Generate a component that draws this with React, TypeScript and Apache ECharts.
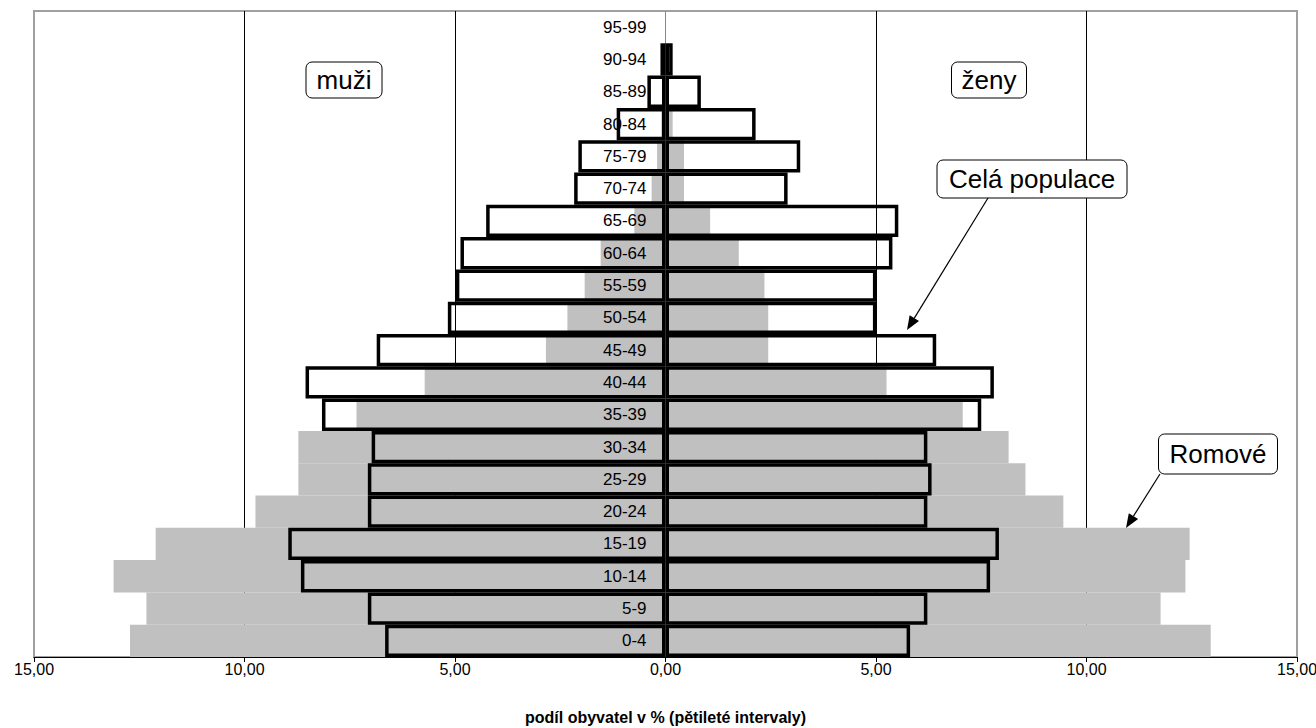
import React, { useEffect, useRef } from 'react';
import * as echarts from 'echarts';

const categories = ['0-4', '5-9', '10-14', '15-19', '20-24', '25-29', '30-34', '35-39', '40-44', '45-49', '50-54', '55-59', '60-64', '65-69', '70-74', '75-79', '80-84', '85-89', '90-94', '95-99'];
// Celá populace (whole population), % per age group
const totalMen = [6.66, 7.07, 8.66, 8.96, 7.07, 7.07, 6.98, 8.16, 8.55, 6.86, 5.17, 4.98, 4.87, 4.26, 2.17, 2.07, 1.16, 0.43, 0.12, 0];
const totalWomen = [5.81, 6.22, 7.71, 7.92, 6.22, 6.32, 6.22, 7.5, 7.8, 6.43, 5.01, 5.01, 5.39, 5.53, 2.9, 3.2, 2.14, 0.84, 0.17, 0];
// Romové
const romaMen = [12.72, 12.33, 13.11, 12.11, 9.74, 8.72, 8.72, 7.34, 5.72, 2.84, 2.33, 1.92, 1.54, 0.74, 0.33, 0.2, 0.1, 0.05, 0, 0];
const romaWomen = [12.95, 11.76, 12.35, 12.45, 9.45, 8.55, 8.15, 7.06, 5.25, 2.44, 2.44, 2.35, 1.74, 1.06, 0.44, 0.44, 0.17, 0.05, 0, 0];
const xTicks = [-15, -10, -5, 0, 5, 10, 15];

const FONT = 'Liberation Sans, Arial, sans-serif';
const CHART_W = 1316;
const CHART_H = 728;
const GRID = { left: 34, right: 19, top: 11, bottom: 71 };

function arrow(x1: number, y1: number, x2: number, y2: number) {
  const dx = x2 - x1, dy = y2 - y1, L = Math.hypot(dx, dy);
  const ux = dx / L, uy = dy / L;
  const len = 14, hw = 5.5;
  const bx = x2 - ux * len, by = y2 - uy * len;
  return [
    { type: 'line', z: 100, shape: { x1, y1, x2: bx, y2: by }, style: { stroke: '#000', lineWidth: 1.2 } },
    {
      type: 'polygon', z: 100,
      shape: { points: [[x2, y2], [bx - uy * hw, by + ux * hw], [bx + uy * hw, by - ux * hw]] },
      style: { fill: '#000' },
    },
  ];
}

function box(text: string, cx: number, cy: number, w: number, h: number) {
  return [
    {
      type: 'rect', z: 100,
      shape: { x: cx - w / 2, y: cy - h / 2, width: w, height: h, r: 6 },
      style: { fill: '#fff', stroke: '#000', lineWidth: 1 },
    },
    {
      type: 'text', z: 101, x: cx, y: cy,
      style: {
        text, fontSize: 26, fontFamily: FONT, fill: '#000',
        align: 'center', verticalAlign: 'middle', textAlign: 'center', textVerticalAlign: 'middle',
      },
    },
  ];
}

export default function App() {
  const ref = useRef<HTMLDivElement>(null);
  useEffect(() => {
    document.body.style.margin = '0';
    const chart = echarts.init(ref.current!, null, { renderer: 'svg' });
    const splitColors = xTicks.map((t) => (t === 0 ? '#888' : Math.abs(t) === 15 ? 'rgba(0,0,0,0)' : '#000'));
    const neg = (arr: number[]) => arr.map((v) => (v === 0 ? '-' : -v));
    const pos = (arr: number[]) => arr.map((v) => (v === 0 ? '-' : v));
    const blackStyle = { color: 'rgba(0,0,0,0)', borderColor: '#000', borderWidth: 3.5 };
    const halfPlot = (CHART_W - GRID.left - GRID.right) / 2;
    chart.setOption({
      animation: false,
      backgroundColor: '#fff',
      grid: {
        ...GRID, show: true, outerBoundsMode: 'none', containLabel: false,
        borderColor: '#a0a0a0', borderWidth: 2, backgroundColor: '#fff',
      },
      xAxis: {
        type: 'value', min: -15, max: 15, interval: 5, z: 0,
        axisLine: { show: true, onZero: false, lineStyle: { color: '#000', width: 1 } },
        axisTick: { show: true, length: 5, lineStyle: { color: '#000' } },
        axisLabel: {
          color: '#000', fontSize: 16, fontFamily: FONT, margin: 4,
          formatter: (v: number) => Math.abs(v).toFixed(2).replace('.', ','),
        },
        splitLine: { show: true, lineStyle: { color: splitColors, width: 1 } },
        name: 'podíl obyvatel v % (pětileté intervaly)',
        nameLocation: 'middle', nameGap: 52, nameMoveOverlap: false,
        nameTextStyle: { color: '#000', fontWeight: 'bold', fontSize: 16, fontFamily: FONT },
      },
      yAxis: {
        type: 'category', data: categories, z: 2, position: 'left',
        axisLine: { show: false, onZero: false },
        axisTick: { show: false },
        axisLabel: {
          show: true, inside: true, align: 'right', color: '#000', fontSize: 17, fontFamily: FONT,
          margin: halfPlot - 19,
        },
      },
      series: [
        { name: 'Romové muži', type: 'bar', z: 1, data: neg(romaMen), barGap: '-100%', barCategoryGap: '0%', itemStyle: { color: '#c0c0c0' } },
        { name: 'Romové ženy', type: 'bar', z: 1, data: pos(romaWomen), barGap: '-100%', barCategoryGap: '0%', itemStyle: { color: '#c0c0c0' } },
        { name: 'Celá populace muži', type: 'bar', z: 3, data: neg(totalMen), barGap: '-100%', barCategoryGap: '0%', itemStyle: blackStyle },
        { name: 'Celá populace ženy', type: 'bar', z: 3, data: pos(totalWomen), barGap: '-100%', barCategoryGap: '0%', itemStyle: blackStyle },
      ],
      graphic: [
        ...box('muži', 344, 80, 76, 36),
        ...box('ženy', 989, 80, 75, 36),
        ...box('Celá populace', 1032, 179, 190, 38),
        ...box('Romové', 1218, 454, 119, 40),
        ...arrow(988, 198, 907, 330),
        ...arrow(1160, 474, 1126, 528),
      ],
    });
    return () => chart.dispose();
  }, []);
  return <div ref={ref} style={{ width: CHART_W, height: CHART_H }} />;
}
